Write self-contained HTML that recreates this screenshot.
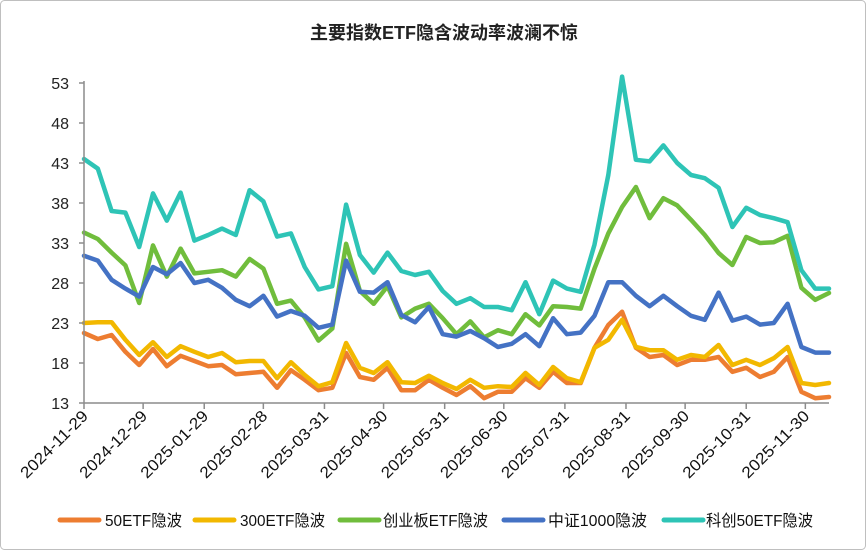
<!DOCTYPE html>
<html><head><meta charset="utf-8">
<style>
html,body{margin:0;padding:0;background:#fff;}
#wrap{position:relative;width:866px;height:550px;}
svg text{font-family:"Liberation Sans","Noto Sans CJK SC",sans-serif;}
</style></head>
<body>
<div id="wrap">
<svg id="chart" width="866" height="550" xmlns="http://www.w3.org/2000/svg">
<rect x="0.5" y="0.5" width="865" height="549" rx="4" fill="#fff" stroke="#bfbfbf"/>
<text x="444" y="39" text-anchor="middle" font-size="18" font-weight="bold" fill="#222">主要指数ETF隐含波动率波澜不惊</text>
<g id="grid"></g><g id="series"></g><g id="axes"></g><g id="legend"></g>
</svg>
</div>
<script>
const startDate = "2024-11-29";
const xTickLabels = ["2024-11-29","2024-12-29","2025-01-29","2025-02-28","2025-03-31","2025-04-30","2025-05-31","2025-06-30","2025-07-31","2025-08-31","2025-09-30","2025-10-31","2025-11-30"];
const yTicks = [13,18,23,28,33,38,43,48,53];
const seriesNames = ["50ETF隐波","300ETF隐波","创业板ETF隐波","中证1000隐波","科创50ETF隐波"];
const seriesColors = ["#ed7d31","#f2b800","#70bd3c","#4472c4","#2ec4b6"];
const s50 = [21.75,21,21.5,19.4,17.75,19.75,17.6,18.9,18.25,17.6,17.75,16.6,16.75,16.9,14.9,17.1,15.9,14.6,
 14.9,19.25,16.25,15.9,17.4,14.6,14.6,15.9,14.9,14,15.1,13.6,14.4,14.4,16.1,14.9,16.9,15.5,15.5,19.9,22.75,24.4,
 19.9,18.75,19,17.75,18.4,18.4,18.75,16.9,17.4,16.25,16.9,18.75,14.4,13.6,13.75];
const s300 = [23,23.1,23.1,20.9,19,20.6,18.75,20.1,19.4,18.75,19.25,18.1,18.25,18.25,16.1,18.1,16.5,15.1,
 15.6,20.5,17.4,16.75,18.1,15.6,15.5,16.4,15.5,14.75,15.9,14.9,15.1,15,16.75,15.25,17.5,16.1,15.6,19.9,20.9,23.4,
 20,19.6,19.6,18.4,19,18.75,20.25,17.75,18.4,17.75,18.6,20,15.5,15.25,15.5];
const sCyb = [34.3,33.5,31.8,30.2,25.5,32.7,28.8,32.3,29.2,29.4,29.6,28.8,31,29.8,25.4,25.8,23.7,20.8,
 22.3,32.9,27,25.4,27.6,23.7,24.8,25.4,23.6,21.6,23.2,21.2,22.1,21.6,24.1,22.7,25.1,25,24.8,29.8,34.2,37.5,
 40,36.1,38.6,37.7,35.9,34,31.75,30.25,33.75,33,33.1,33.9,27.4,25.9,26.75];
const sZz1000 = [31.4,30.8,28.4,27.3,26.3,30,29.1,30.5,28,28.4,27.4,25.9,25.1,26.4,23.8,24.5,23.9,22.4,
 22.8,30.8,26.9,26.8,28.1,24,23.1,25,21.6,21.3,22,21.1,20,20.4,21.6,20.1,23.6,21.6,21.8,23.9,28.1,28.1,
 26.4,25.1,26.4,25.1,23.9,23.4,26.8,23.3,23.8,22.8,23,25.4,20,19.3,19.3];
const sKc50 = [43.5,42.3,37,36.8,32.5,39.2,35.8,39.3,33.3,34,34.8,34,39.6,38.2,33.8,34.2,30,27.2,
 27.6,37.8,31.5,29.3,31.8,29.5,29,29.4,27,25.4,26.1,25,25,24.6,28.1,24.1,28.3,27.3,26.9,32.8,41.5,53.8,
 43.4,43.2,45.2,43,41.5,41.1,39.9,35,37.4,36.5,36.1,35.6,29.6,27.3,27.3];
const allSeries = [s50,s300,sCyb,sZz1000,sKc50];

const NS="http://www.w3.org/2000/svg";
const X0=84, X1=829, Y0=403, Y1=83, yMin=13, yMax=53;
const nPts = s50.length;
const totalDays = (nPts-1)*7;
const t0 = Date.parse(startDate+"T00:00:00Z");
function xDay(d){return X0+(X1-X0)*d/totalDays;}
function xIdx(i){return xDay(i*7);}
function xDate(s){return xDay((Date.parse(s+"T00:00:00Z")-t0)/86400000);}
function y(v){return Y0-(v-yMin)/(yMax-yMin)*(Y0-Y1);}
function mk(tag,attrs,parent){const e=document.createElementNS(NS,tag);for(const k in attrs)e.setAttribute(k,attrs[k]);parent.appendChild(e);return e;}

const axes=document.getElementById('axes');
const yAxis=mk('line',{x1:X0,y1:Y1-2,x2:X0,y2:Y0,stroke:'#8c8c8c','stroke-width':1.5},axes);


yTicks.forEach(v=>{
  const t=mk('line',{x1:X0-5,y1:y(v),x2:X0,y2:y(v),stroke:'#8c8c8c','stroke-width':1.5},axes);
  
  
  const l=mk('text',{x:X0-15,y:y(v)+6,'text-anchor':'end','font-size':16,fill:'#222'},axes);
  l.textContent=v;
  
  
});
const xAxis=mk('line',{x1:X0,y1:Y0,x2:X1,y2:Y0,stroke:'#8c8c8c','stroke-width':1.5},axes);


xTickLabels.forEach(s=>{
  const x=xDate(s);
  const t=mk('line',{x1:x,y1:Y0,x2:x,y2:Y0+6,stroke:'#8c8c8c','stroke-width':1.5},axes);
  
  
  const l=mk('text',{x:x+5,y:Y0+14,'text-anchor':'end','font-size':16,fill:'#111',textLength:88,lengthAdjust:'spacingAndGlyphs',transform:`rotate(-45 ${x+5} ${Y0+14})`},axes);
  l.textContent=s;
  
  
});

const sg=document.getElementById('series');
allSeries.forEach((arr,k)=>{
  const pts=arr.map((v,i)=>xIdx(i).toFixed(1)+','+y(v).toFixed(1)).join(' ');
  const p=mk('polyline',{points:pts,fill:'none',stroke:seriesColors[k],'stroke-width':4.5,'stroke-linejoin':'round','stroke-linecap':'round'},sg);
  
  
});

const lg=document.getElementById('legend');
const legendX=[58,193,338,502,662];
const legendTX=[105,240,383,548,706];
const legendW=[77,85,105,99,107];
seriesNames.forEach((n,k)=>{
  const g=mk('g',{},lg);
  
  
  mk('line',{x1:legendX[k]+2,y1:520,x2:legendX[k]+41,y2:520,stroke:seriesColors[k],'stroke-width':5,'stroke-linecap':'round'},g);
  const t=mk('text',{x:legendTX[k],y:526,'font-size':16,fill:'#111',textLength:legendW[k],lengthAdjust:'spacingAndGlyphs'},g);
  t.textContent=n;
});
</script>
</body></html>
